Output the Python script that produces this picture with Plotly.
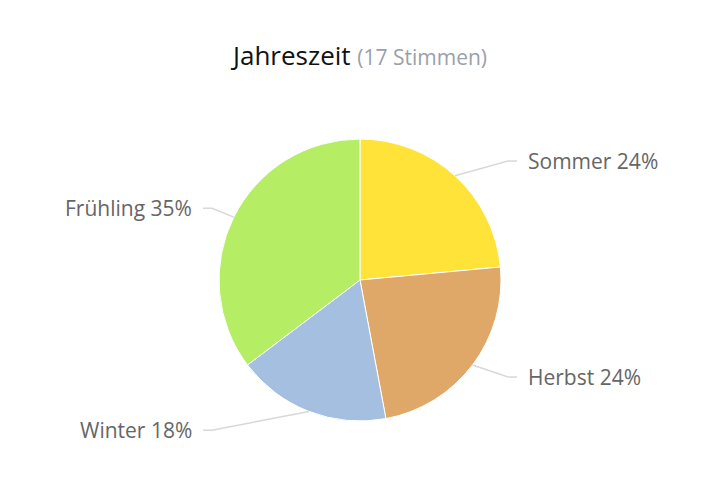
import math
import plotly.graph_objects as go

labels = ["Sommer", "Herbst", "Winter", "Frühling"]
votes = [4, 4, 3, 6]
colors = ["#FFE338", "#DFA869", "#A4BFDF", "#B5ED65"]
title_main = "Jahreszeit"
title_sub = "(17 Stimmen)"

W, H = 720, 504
cx, cy, r = 360, 280, 141
label_gap = 20
label_dx = 166

fig = go.Figure(go.Pie(
    labels=labels, values=votes, sort=False, direction="clockwise", rotation=0,
    marker=dict(colors=colors, line=dict(color="white", width=1)),
    textinfo="none", hoverinfo="skip", showlegend=False,
    domain=dict(x=[(cx - r) / W, (cx + r) / W], y=[1 - (cy + r) / H, 1 - (cy - r) / H]),
))

total = sum(votes)
cum = 0
shapes = []
annotations = []
for lab, v in zip(labels, votes):
    mid = (cum + v / 2) / total * 2 * math.pi
    cum += v
    sx, sy = math.sin(mid), -math.cos(mid)
    ex, ey = cx + r * sx, cy + r * sy
    ly = cy + (r + label_gap) * sy
    right = sx >= 0
    tx = cx + label_dx if right else cx - label_dx
    bx = tx - 18 if right else tx + 18
    hx = tx - 9 if right else tx + 9
    path = f"M {ex/W},{1-ey/H} L {bx/W},{1-ly/H} L {hx/W},{1-ly/H}"
    shapes.append(dict(type="path", xref="paper", yref="paper", path=path,
                       line=dict(color="#D8D8D8", width=1.5)))
    pct = round(v / total * 100)
    annotations.append(dict(x=tx / W, y=1 - ly / H, xref="paper", yref="paper",
                            text=f"{lab} {pct}%", showarrow=False,
                            xanchor="left" if right else "right", yanchor="middle",
                            font=dict(family="Open Sans", size=21, color="#666666")))

fig.update_layout(
    width=W, height=H, margin=dict(l=0, r=0, t=0, b=0),
    paper_bgcolor="white", plot_bgcolor="white",
    title=dict(text=f"{title_main} <span style='color:#9AA0AA;font-size:21px'>{title_sub}</span>",
               x=0.5, xanchor="center", y=1 - 56 / H, yanchor="middle",
               font=dict(family="Open Sans", size=26, color="#111111")),
    shapes=shapes, annotations=annotations,
)
fig.write_html("out.html")
